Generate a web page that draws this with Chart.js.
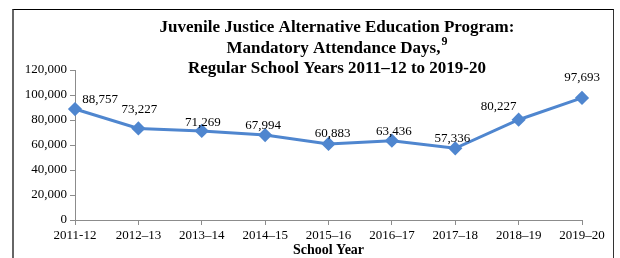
<!DOCTYPE html>
<html lang="en">

<head>
  <meta charset="UTF-8">
  <title>JJAEP Mandatory Attendance Days</title>
  <script src="https://cdn.jsdelivr.net/npm/chart.js"></script>
  <style>
    html, body {
      margin: 0;
      padding: 0;
      background: #fff;
    }
    .quadro {
      position: absolute;
      left: 12px;
      top: 9px;
      width: 599px;
      height: 270px;
      border-top: 1px solid #000;
      border-right: 1px solid #333;
      border-left: 2px solid #666;
    }
    .grafico {
      position: absolute;
      left: 0;
      top: 0;
      width: 620px;
      height: 258px;
    }
  </style>
</head>

<body>
  <div class="quadro"></div>
  <div class="grafico">
    <canvas id="dias-grafico" width="620" height="258"></canvas>
  </div>

  <script>
    // Dados
    const anosLetivos = ['2011-12', '2012\u201313', '2013\u201314', '2014\u201315', '2015\u201316',
      '2016\u201317', '2017\u201318', '2018\u201319', '2019\u201320'];
    const diasObrigatorios = [88757, 73227, 71269, 67994, 60883, 63436, 57336, 80227, 97693];
    const ticksY = [0, 20000, 40000, 60000, 80000, 100000, 120000];

    const tituloLinhas = [
      'Juvenile Justice Alternative Education Program:',
      'Mandatory Attendance Days,',
      'Regular School Years 2011\u201312 to 2019-20'
    ];
    const tituloNota = '9';

    const serif = '"Liberation Serif", "Times New Roman", serif';
    const corLinha = '#4F86CF';
    const corEixo = '#8c8c8c';

    const fmt = v => v.toLocaleString('en-US');

    // Título com sobrescrito
    const tituloPlugin = {
      id: 'tituloPlugin',
      afterDraw(chart) {
        const ctx = chart.ctx;
        const cx = 337;
        const ys = [28, 49, 69];
        ctx.save();
        ctx.fillStyle = '#000';
        ctx.textBaseline = 'middle';
        ctx.textAlign = 'left';
        tituloLinhas.forEach((linha, i) => {
          ctx.font = 'bold 17px ' + serif;
          const w = ctx.measureText(linha).width;
          let extra = 0;
          if (i === 1) {
            ctx.font = 'bold 12px ' + serif;
            extra = ctx.measureText(tituloNota).width + 1;
          }
          const x0 = cx - (w + extra) / 2;
          ctx.font = 'bold 17px ' + serif;
          ctx.fillText(linha, x0, ys[i]);
          if (i === 1) {
            ctx.font = 'bold 12px ' + serif;
            ctx.fillText(tituloNota, x0 + w + 1, ys[i] - 7);
          }
        });
        ctx.restore();
      }
    };

    // Rótulos de dados (deslocamentos ajustados a olho)
    const rotulosPlugin = {
      id: 'rotulosPlugin',
      afterDatasetsDraw(chart) {
        const ctx = chart.ctx;
        const meta = chart.getDatasetMeta(0);
        const desloc = [[25, -9], [1, -19], [1, -8], [-2, -9], [4, -10], [2, -9], [-3, -10], [-20, -13], [0, -20]];
        ctx.save();
        ctx.font = '13px ' + serif;
        ctx.fillStyle = '#000';
        ctx.textAlign = 'center';
        ctx.textBaseline = 'middle';
        meta.data.forEach((pt, i) => {
          const d = desloc[i] || [0, -10];
          ctx.fillText(fmt(diasObrigatorios[i]), pt.x + d[0], pt.y + d[1]);
        });
        ctx.restore();
      }
    };

    const ctx = document.getElementById('dias-grafico').getContext('2d');
    const grafico = new Chart(ctx, {
      type: 'line',
      data: {
        labels: anosLetivos,
        datasets: [{
          label: 'Mandatory Attendance Days',
          data: diasObrigatorios,
          borderColor: corLinha,
          backgroundColor: corLinha,
          borderWidth: 3,
          pointStyle: 'rectRot',
          pointRadius: 5,
          pointHoverRadius: 5,
          tension: 0,
          fill: false
        }]
      },
      options: {
        responsive: false,
        animation: false,
        layout: {
          padding: { left: 0, right: 38, top: 70, bottom: 0 }
        },
        plugins: {
          legend: { display: false },
          title: { display: false },
          tooltip: { enabled: false }
        },
        scales: {
          x: {
            offset: false,
            grid: {
              display: true,
              drawOnChartArea: false,
              drawTicks: true,
              tickLength: 5,
              color: corEixo
            },
            border: { color: corEixo, width: 1 },
            ticks: {
              color: '#000',
              font: { family: serif, size: 13 },
              padding: 3,
              maxRotation: 0,
              autoSkip: false
            },
            title: {
              display: true,
              text: 'School Year',
              color: '#000',
              font: { family: serif, size: 14, weight: 'bold' },
              padding: { top: 0, bottom: -1 }
            },
            afterFit(scale) { scale.height = 38; }
          },
          y: {
            min: 0,
            max: 120000,
            afterBuildTicks(scale) { scale.ticks = ticksY.map(v => ({ value: v })); },
            grid: {
              display: true,
              drawOnChartArea: false,
              drawTicks: true,
              tickLength: 5,
              color: corEixo
            },
            border: { color: corEixo, width: 1 },
            ticks: {
              color: '#000',
              font: { family: serif, size: 13 },
              padding: 3,
              callback: v => fmt(v)
            },
            afterFit(scale) { scale.width = 75; }
          }
        }
      },
      plugins: [tituloPlugin, rotulosPlugin]
    });
  </script>
</body>

</html>
